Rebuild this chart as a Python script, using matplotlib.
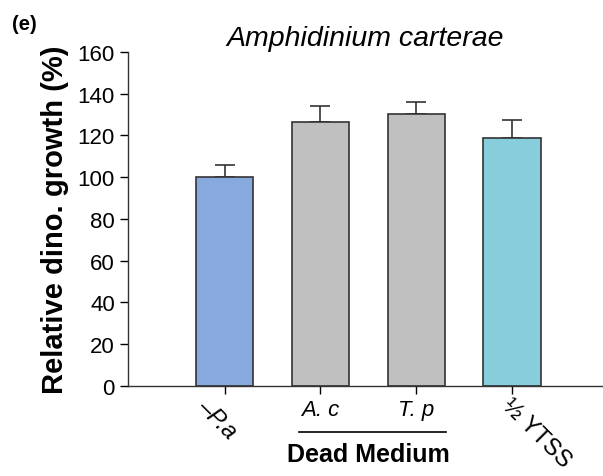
import matplotlib
matplotlib.use('Agg')
from matplotlib import pyplot as plt
from matplotlib import transforms
import numpy as np

# --- Datos ---------------------------------------------------------------------------------------
categorias = ['\u2013P.a', 'A. c', 'T. p', '\u00bd YTSS']
valores = [100, 126.5, 130.5, 119]
errores = [6, 7.5, 5.5, 8.5]
colores = ['#88a9de', '#c0c0c0', '#c0c0c0', '#88cddc']
rotaciones = [-45, 0, 0, -45]

plt.rcParams['font.family'] = ['Liberation Sans', 'DejaVu Sans']

fig = plt.figure(figsize=(6.03, 4.77), dpi=100)
ax = fig.add_axes([0.2123, 0.1887, 0.7877, 0.7002])

x = np.arange(len(valores))
ax.bar(x, valores, width=0.6, color=colores, edgecolor='#333333', linewidth=1.2, zorder=2)
ax.errorbar(x, valores, yerr=[np.zeros(len(errores)), errores], fmt='none',
            ecolor='#333333', elinewidth=1.2, capsize=7, capthick=1.2, zorder=1)

# --- Ejes ----------------------------------------------------------------------------------------
ax.set_xlim(-1.01, 3.95)
ax.set_ylim(0, 160)
ax.set_yticks(np.arange(0, 161, 20))
ax.tick_params(axis='y', labelsize=16, length=6, width=1, direction='out')
ax.tick_params(axis='x', length=6, width=1, direction='out')
ax.spines['top'].set_visible(False)
ax.spines['right'].set_visible(False)
for s in ['left', 'bottom']:
    ax.spines[s].set_linewidth(1.0)
    ax.spines[s].set_color('#333333')

ax.set_xticks(x)
ax.set_xticklabels(categorias)
# corrimiento (pulgadas) y tamaño de las etiquetas rotadas
ajuste = {'\u2013P.a': (-0.24, -0.03, 17), '\u00bd YTSS': (-0.07, -0.03, 17)}
for lab, rot in zip(ax.get_xticklabels(), rotaciones):
    lab.set_fontsize(16)
    if lab.get_text() != '\u00bd YTSS':
        lab.set_fontstyle('italic')
    if rot != 0:
        dx, dy, fs = ajuste[lab.get_text()]
        lab.set_fontsize(fs)
        lab.set_rotation(rot)
        lab.set_rotation_mode('anchor')
        lab.set_ha('left')
        lab.set_va('center')
        lab.set_transform(lab.get_transform() + transforms.ScaledTranslation(dx, dy, fig.dpi_scale_trans))

ax.set_ylabel('Relative dino. growth (%)', fontsize=21, fontweight='bold', labelpad=6)
ax.set_title('Amphidinium carterae', fontsize=20.5, fontstyle='italic', pad=5)

# --- Anotacion "Dead Medium" ---------------------------------------------------------------------
trans = transforms.blended_transform_factory(ax.transData, ax.transAxes)
ax.plot([0.78, 2.31], [-0.138, -0.138], color='black', linewidth=1.2, transform=trans, clip_on=False)
ax.text(1.5, -0.203, 'Dead Medium', transform=trans, ha='center', va='center',
        fontsize=18, fontweight='bold')

fig.text(0.02, 0.948, '(e)', fontsize=14.5, fontweight='bold', ha='left', va='center')

plt.savefig('out.png', dpi=100)
